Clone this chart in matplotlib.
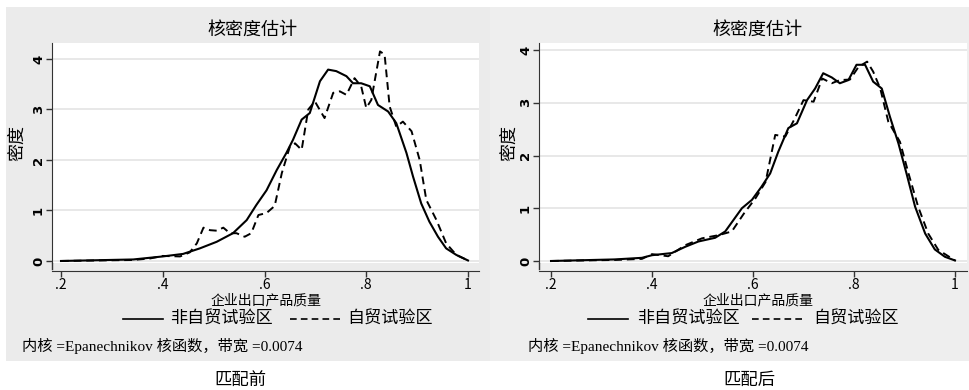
import matplotlib
matplotlib.use('Agg')
from matplotlib import pyplot as plt
from matplotlib.patches import Rectangle
from matplotlib.lines import Line2D

plt.rcParams['font.family'] = ['Noto Sans CJK SC', 'DejaVu Sans']

# 匹配前
pre_x_solid = [0.2, 0.342, 0.4, 0.44, 0.473, 0.506, 0.538, 0.565, 0.584, 0.604, 0.624, 0.643,
               0.656, 0.673, 0.689, 0.709, 0.725, 0.741, 0.761, 0.774, 0.79, 0.807, 0.823,
               0.843, 0.859, 0.879, 0.892, 0.908, 0.924, 0.941, 0.957, 0.977, 1.0]
pre_y_solid = [0.0, 0.03, 0.09, 0.14, 0.25, 0.38, 0.55, 0.81, 1.11, 1.40, 1.80, 2.14,
               2.40, 2.80, 2.93, 3.56, 3.79, 3.76, 3.66, 3.52, 3.52, 3.46, 3.09,
               2.96, 2.73, 2.14, 1.67, 1.14, 0.78, 0.48, 0.25, 0.12, 0.01]
pre_x_dash = [0.2, 0.342, 0.375, 0.4, 0.434, 0.453, 0.467, 0.48, 0.493, 0.506, 0.519, 0.532,
              0.545, 0.561, 0.574, 0.588, 0.604, 0.62, 0.634, 0.65, 0.66, 0.673, 0.686,
              0.699, 0.718, 0.735, 0.748, 0.761, 0.777, 0.79, 0.8, 0.81, 0.817, 0.827,
              0.836, 0.846, 0.859, 0.872, 0.889, 0.905, 0.918, 0.938, 0.957, 0.977, 1.0]
pre_y_dash = [0.0, 0.02, 0.05, 0.10, 0.09, 0.17, 0.35, 0.66, 0.61, 0.60, 0.66, 0.55,
              0.55, 0.48, 0.55, 0.91, 0.95, 1.09, 1.74, 2.27, 2.33, 2.20, 3.00,
              3.16, 2.83, 3.33, 3.36, 3.29, 3.62, 3.46, 3.03, 3.19, 3.59, 4.15,
              4.09, 3.06, 2.66, 2.76, 2.57, 2.00, 1.21, 0.81, 0.35, 0.12, 0.01]

# 匹配后
post_x_solid = [0.2, 0.327, 0.38, 0.4, 0.439, 0.466, 0.492, 0.525, 0.545, 0.578, 0.598, 0.617,
                0.634, 0.65, 0.67, 0.687, 0.707, 0.723, 0.739, 0.756, 0.772, 0.789, 0.805,
                0.822, 0.838, 0.855, 0.871, 0.888, 0.904, 0.921, 0.941, 0.96, 0.98, 1.0]
post_y_solid = [0.0, 0.03, 0.06, 0.11, 0.15, 0.27, 0.37, 0.44, 0.56, 1.00, 1.16, 1.41,
                1.66, 2.07, 2.52, 2.61, 3.05, 3.27, 3.56, 3.48, 3.37, 3.43, 3.72,
                3.72, 3.40, 3.27, 2.74, 2.23, 1.66, 1.03, 0.52, 0.22, 0.08, 0.01]
post_x_dash = [0.2, 0.327, 0.38, 0.4, 0.432, 0.466, 0.499, 0.532, 0.558, 0.582, 0.605, 0.625,
               0.644, 0.664, 0.681, 0.7, 0.72, 0.737, 0.756, 0.772, 0.792, 0.809, 0.826,
               0.838, 0.852, 0.868, 0.891, 0.908, 0.927, 0.947, 0.967, 1.0]
post_y_dash = [0.0, 0.02, 0.04, 0.13, 0.09, 0.30, 0.43, 0.49, 0.56, 0.90, 1.19, 1.50,
               2.39, 2.36, 2.67, 3.05, 3.02, 3.46, 3.37, 3.43, 3.44, 3.68, 3.78,
               3.59, 3.27, 2.64, 2.26, 1.66, 1.03, 0.52, 0.21, 0.01]

x_ticks = [0.2, 0.4, 0.6, 0.8, 1.0]
x_ticklabels = ['.2', '.4', '.6', '.8', '1']
y_ticks = [0, 1, 2, 3, 4]

title = '核密度估计'
xlabel = '企业出口产品质量'
ylabel = '密度'
leg_solid = '非自贸试验区'
leg_dash = '自贸试验区'
note = '内核 =Epanechnikov 核函数，带宽 =0.0074'
captions = ['匹配前', '匹配后']

W, H = 970, 390
fig = plt.figure(figsize=(W / 100, H / 100), dpi=100)
fig.patch.set_facecolor('white')

def px(x0, y0, x1, y1):
    return [x0 / W, 1 - y1 / H, (x1 - x0) / W, (y1 - y0) / H]

fig.patches.append(Rectangle((6 / W, 1 - 361 / H), 484 / W, 354 / H,
                             transform=fig.transFigure, facecolor='#ebebeb', edgecolor='none', zorder=-5))
fig.patches.append(Rectangle((490 / W, 1 - 361 / H), 480 / W, 354 / H,
                             transform=fig.transFigure, facecolor='#eeeeee', edgecolor='none', zorder=-5))

panels = [
    dict(box=(52, 43, 479, 263), xlim=(0.1823, 1.0216), ylim=(-0.04, 4.317),
         xs=pre_x_solid, ys=pre_y_solid, xd=pre_x_dash, yd=pre_y_dash,
         title_x=252, ylab_x=17, xlab_x=266,
         leg=(123, 163, 170, 290, 343, 347), note_x=22, cap_x=240),
    dict(box=(539, 43, 967, 263), xlim=(0.1762, 1.0238), ylim=(-0.038, 4.133),
         xs=post_x_solid, ys=post_y_solid, xd=post_x_dash, yd=post_y_dash,
         title_x=757, ylab_x=509, xlab_x=758,
         leg=(588, 628, 637, 752, 803, 813), note_x=528, cap_x=749),
]

for i, p in enumerate(panels):
    x0, y0, x1, y1 = p['box']
    ax = fig.add_axes(px(x0, y0, x1, y1))
    ax.set_facecolor('white')
    ax.plot(p['xs'], p['ys'], color='black', lw=1.5, solid_joinstyle='round')
    ax.plot(p['xd'], p['yd'], color='black', lw=1.4, linestyle=(0, (4, 2.5)))
    ax.set_xlim(*p['xlim'])
    ax.set_ylim(*p['ylim'])
    ax.set_xticks(x_ticks)
    ax.set_xticklabels(x_ticklabels, fontsize=9.5, fontweight='bold', family='DejaVu Sans')
    ax.set_yticks(y_ticks)
    ax.set_yticklabels([str(t) for t in y_ticks], fontsize=9.5, fontweight='bold',
                       family='DejaVu Sans', rotation=90, va='center')
    ax.yaxis.grid(True, color='#e4e4e4', lw=1.2)
    ax.set_axisbelow(True)
    for s in ['top', 'right']:
        ax.spines[s].set_visible(False)
    ax.spines['bottom'].set_position(('outward', 6))
    ax.spines['left'].set_color('#333333')
    ax.spines['bottom'].set_color('#333333')
    ax.tick_params(axis='both', length=4, width=1, color='#333333', pad=1)
    # extend y axis down to the offset x axis
    fig.add_artist(Line2D([x0 / W, x0 / W], [1 - y1 / H, 1 - 269 / H], color='#333333', lw=1))

    fig.text(p['title_x'] / W, 1 - 30 / H, title, fontsize=13, ha='center', va='center')
    fig.text(p['ylab_x'] / W, 1 - 143 / H, ylabel, fontsize=13, ha='center', va='center', rotation=90)
    fig.text(p['xlab_x'] / W, 1 - 300 / H, xlabel, fontsize=10, ha='center', va='center')

    ls0, ls1, lt0, ld0, ld1, lt1 = p['leg']
    ly = 1 - 319 / H
    fig.add_artist(Line2D([ls0 / W, ls1 / W], [ly, ly], color='black', lw=1.2))
    fig.text(lt0 / W, ly, leg_solid, fontsize=12.3, ha='left', va='center')
    fig.add_artist(Line2D([ld0 / W, ld1 / W], [ly, ly], color='black', lw=1.2, linestyle=(0, (4, 2.5))))
    fig.text(lt1 / W, ly, leg_dash, fontsize=12.3, ha='left', va='center')

    fig.text(p['note_x'] / W, 1 - 346 / H, note, fontsize=11, ha='left', va='center',
             family=['Liberation Serif', 'Noto Sans CJK SC'])
    fig.text(p['cap_x'] / W, 1 - 380 / H, captions[i], fontsize=12.5, ha='center', va='center')

fig.savefig('out.png', dpi=100, facecolor='white')
